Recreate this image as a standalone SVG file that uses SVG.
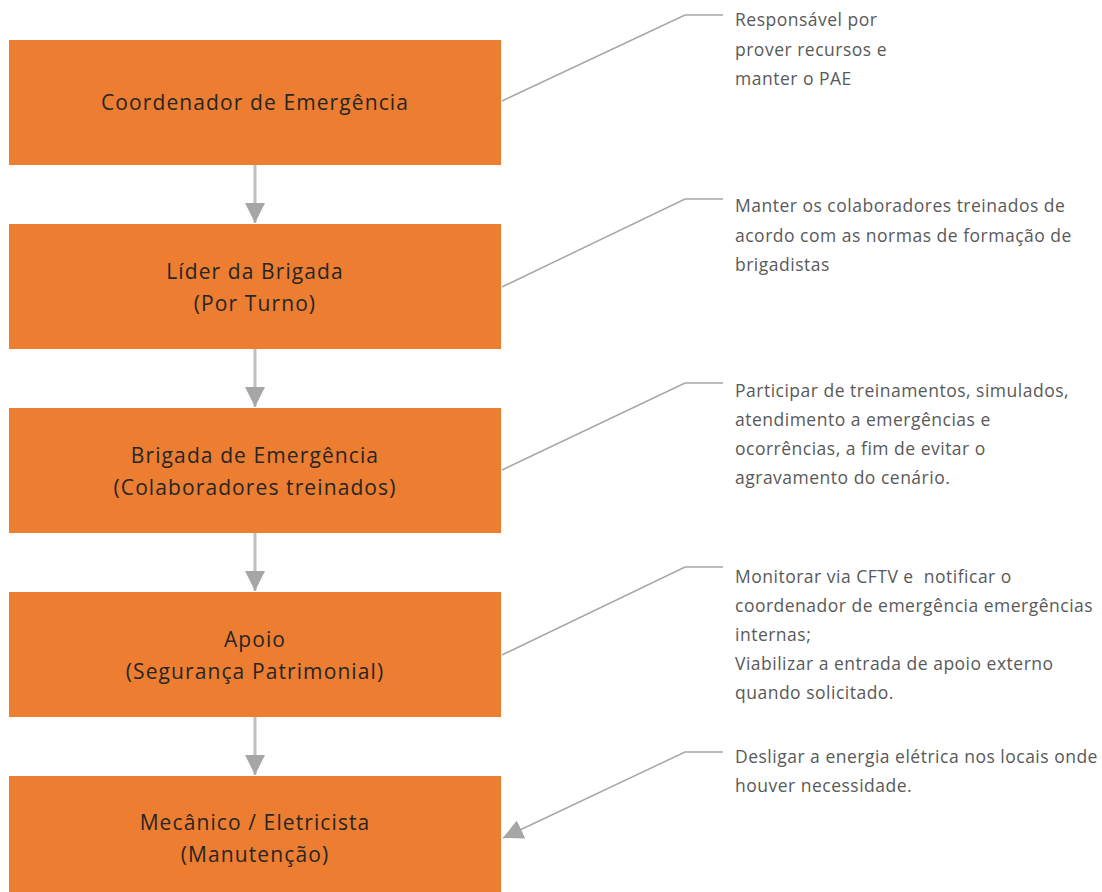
<svg xmlns="http://www.w3.org/2000/svg" width="1102" height="892" viewBox="0 0 1102 892">
<style>
.box{fill:#ED7D31;}
.bt{font-family:"Open Sans","Liberation Sans",sans-serif;font-size:21px;fill:#262626;text-anchor:middle;letter-spacing:1.1px;}
.nt{font-family:"Open Sans","Liberation Sans",sans-serif;font-size:17.5px;fill:#595959;letter-spacing:0.5px;white-space:pre;}
.flow{stroke:#BFBFBF;stroke-width:3;fill:none;}
.call{stroke:#A6A6A6;stroke-width:1.5;fill:none;}
</style>
<defs>
<marker id="ah" markerUnits="userSpaceOnUse" markerWidth="20" markerHeight="20" refX="20" refY="10" orient="auto">
<path d="M0,0 L20,10 L0,20 Z" fill="#A6A6A6"/>
</marker>
</defs>
<rect width="1102" height="892" fill="#FFFFFF"/>
<g id="connectors">
<line class="flow" x1="255" y1="165" x2="255" y2="223" marker-end="url(#ah)"/>
<line class="flow" x1="255" y1="349" x2="255" y2="407" marker-end="url(#ah)"/>
<line class="flow" x1="255" y1="533" x2="255" y2="591" marker-end="url(#ah)"/>
<line class="flow" x1="255" y1="717" x2="255" y2="775" marker-end="url(#ah)"/>
<polyline class="call" points="502,101 685,15 723,15"/>
<polyline class="call" points="502,287 685,199 723,199"/>
<polyline class="call" points="502,470 685,383 723,383"/>
<polyline class="call" points="502,655 685,567 723,567"/>
<polyline class="call" points="723,752 685,752 503,838" marker-end="url(#ah)"/>
</g>
<g id="n1">
<rect class="box" x="9" y="40" width="492" height="125"/>
<text class="bt" x="255" y="110">Coordenador de Emergência</text>
</g>
<g id="n2">
<rect class="box" x="9" y="224" width="492" height="125"/>
<text class="bt" x="255" y="279">Líder da Brigada</text>
<text class="bt" x="255" y="311">(Por Turno)</text>
</g>
<g id="n3">
<rect class="box" x="9" y="408" width="492" height="125"/>
<text class="bt" x="255" y="463">Brigada de Emergência</text>
<text class="bt" x="255" y="495">(Colaboradores treinados)</text>
</g>
<g id="n4">
<rect class="box" x="9" y="592" width="492" height="125"/>
<text class="bt" x="255" y="647">Apoio</text>
<text class="bt" x="255" y="679">(Segurança Patrimonial)</text>
</g>
<g id="n5">
<rect class="box" x="9" y="776" width="492" height="116"/>
<text class="bt" x="255" y="830">Mecânico / Eletricista</text>
<text class="bt" x="255" y="862">(Manutenção)</text>
</g>
<g id="note1">
<text class="nt" x="735" y="26">Responsável por</text>
<text class="nt" x="735" y="55.5">prover recursos e</text>
<text class="nt" x="735" y="85">manter o PAE</text>
</g>
<g id="note2">
<text class="nt" x="735" y="212">Manter os colaboradores treinados de</text>
<text class="nt" x="735" y="241.5">acordo com as normas de formação de</text>
<text class="nt" x="735" y="271">brigadistas</text>
</g>
<g id="note3">
<text class="nt" x="735" y="397">Participar de treinamentos, simulados,</text>
<text class="nt" x="735" y="426">atendimento a emergências e</text>
<text class="nt" x="735" y="455">ocorrências, a fim de evitar o</text>
<text class="nt" x="735" y="484">agravamento do cenário.</text>
</g>
<g id="note4">
<text class="nt" x="735" y="583">Monitorar via CFTV e  notificar o</text>
<text class="nt" x="735" y="612">coordenador de emergência emergências</text>
<text class="nt" x="735" y="641">internas;</text>
<text class="nt" x="735" y="670">Viabilizar a entrada de apoio externo</text>
<text class="nt" x="735" y="699">quando solicitado.</text>
</g>
<g id="note5">
<text class="nt" x="735" y="763">Desligar a energia elétrica nos locais onde</text>
<text class="nt" x="735" y="792">houver necessidade.</text>
</g>
</svg>
